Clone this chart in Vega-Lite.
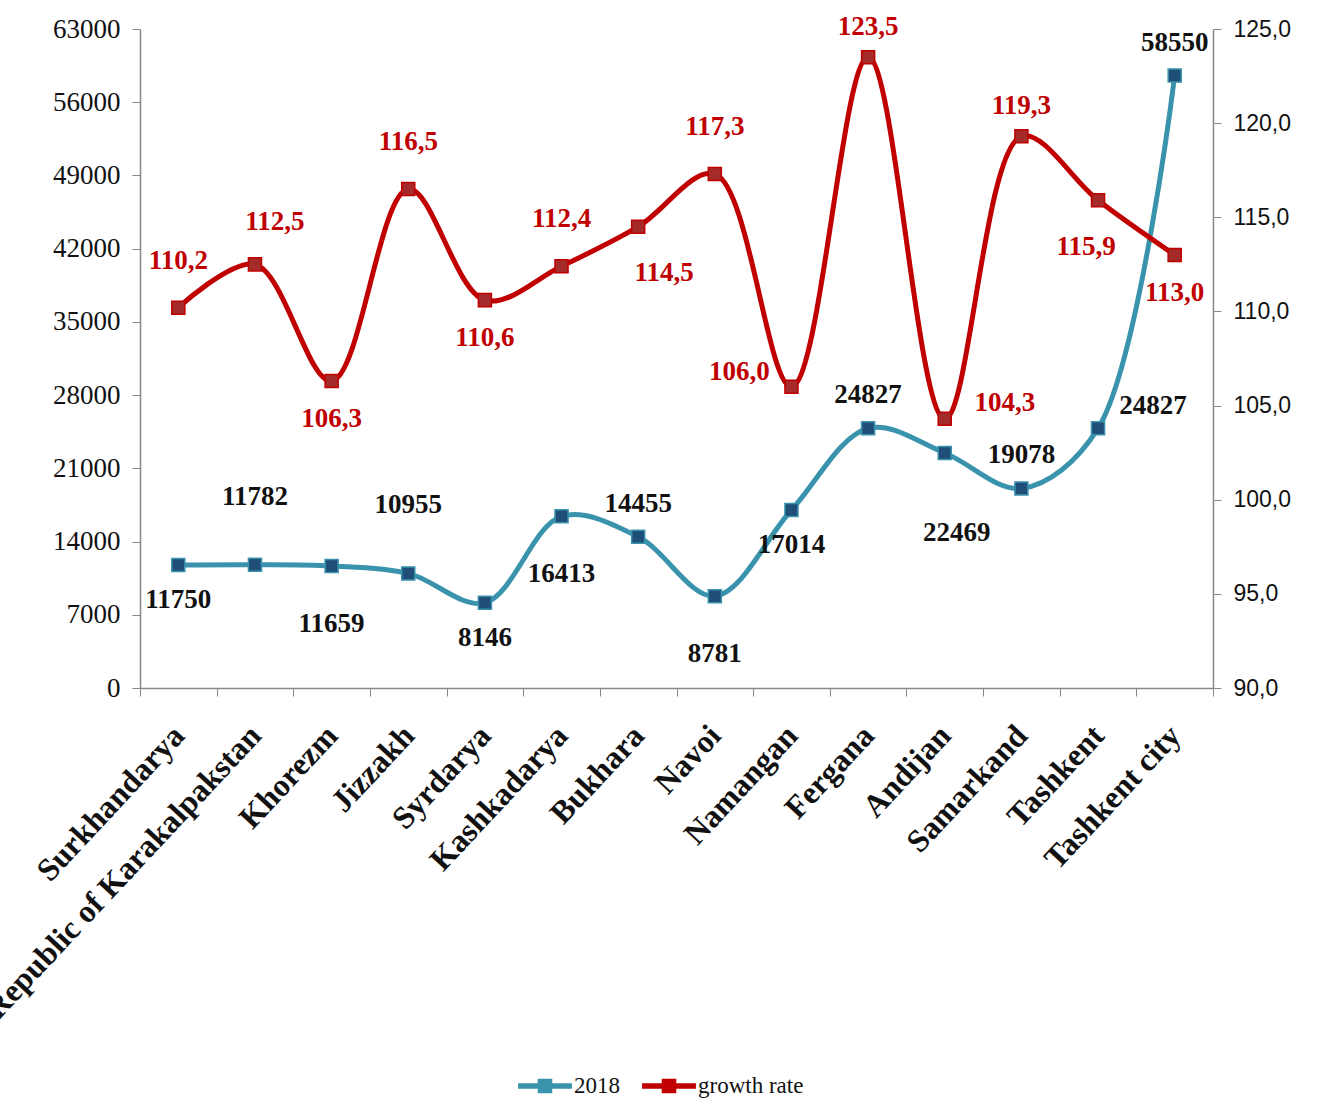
{
  "$schema": "https://vega.github.io/schema/vega-lite/v6.json",
  "autosize": "none",
  "width": 1073,
  "height": 659,
  "padding": {"left": 140, "top": 29, "right": 105, "bottom": 410},
  "background": "white",
  "config": {
    "view": {"stroke": null},
    "locale": {"number": {"decimal": ",", "thousands": "", "grouping": [3], "currency": ["", ""]}},
    "axis": {"grid": false, "domainColor": "#888888", "tickColor": "#888888", "tickSize": 8, "labelColor": "#111111", "titleColor": "#111111"}
  },
  "data": {"values": [
    {"region": "Surkhandarya", "v2018": 11750, "growth": 110.2},
    {"region": "Republic of Karakalpakstan", "v2018": 11782, "growth": 112.5},
    {"region": "Khorezm", "v2018": 11659, "growth": 106.3},
    {"region": "Jizzakh", "v2018": 10955, "growth": 116.5},
    {"region": "Syrdarya", "v2018": 8146, "growth": 110.6},
    {"region": "Kashkadarya", "v2018": 16413, "growth": 112.4},
    {"region": "Bukhara", "v2018": 14455, "growth": 114.5},
    {"region": "Navoi", "v2018": 8781, "growth": 117.3},
    {"region": "Namangan", "v2018": 17014, "growth": 106.0},
    {"region": "Fergana", "v2018": 24827, "growth": 123.5},
    {"region": "Andijan", "v2018": 22469, "growth": 104.3},
    {"region": "Samarkand", "v2018": 19078, "growth": 119.3},
    {"region": "Tashkent", "v2018": 24827, "growth": 115.9},
    {"region": "Tashkent city", "v2018": 58550, "growth": 113.0}
  ]},
  "encoding": {
    "x": {
      "field": "region", "type": "nominal", "sort": null,
      "scale": {"type": "band", "paddingInner": 0, "paddingOuter": 0},
      "axis": {"title": null, "labelAngle": -47, "tickBand": "extent", "labelFont": "Liberation Serif", "labelFontSize": 32, "labelFontWeight": "bold", "labelPadding": 34, "labelLimit": 0, "domainWidth": 1.5}
    }
  },
  "layer": [
    {
      "encoding": {
        "y": {"field": "v2018", "type": "quantitative",
          "scale": {"domain": [0, 63000], "nice": false, "zero": true},
          "axis": {"title": null, "orient": "left", "values": [0, 7000, 14000, 21000, 28000, 35000, 42000, 49000, 56000, 63000], "format": "d", "labelFont": "Liberation Serif", "labelFontSize": 27, "labelPadding": 12, "domainWidth": 1.5}}
      },
      "layer": [
        {"mark": {"type": "line", "interpolate": "catmull-rom", "strokeWidth": 5},
         "encoding": {"color": {"datum": "2018", "type": "nominal",
           "scale": {"domain": ["2018", "growth rate"], "range": ["#3A93AC", "#C00000"]},
           "legend": {"title": null, "orient": "none", "direction": "horizontal", "legendX": 378, "legendY": 1030,
             "labelFont": "Liberation Serif", "labelFontSize": 23, "labelColor": "#111111", "symbolSize": 2900,
             "symbolType": "M-1,-0.1H1V0.1H-1Z M-0.27,-0.27H0.27V0.27H-0.27Z", "symbolStrokeWidth": 0, "columnPadding": 22, "labelOffset": 2,
             "encode": {"symbols": {"update": {"fill": {"scale": "color", "field": "value"}, "stroke": {"value": "transparent"}, "opacity": {"value": 1}}}}}}}},
        {"mark": {"type": "square", "size": 170, "fill": "#1F4E79", "stroke": "#3A93AC", "strokeWidth": 1.5, "opacity": 1}, "encoding": {}},
        {"transform": [{"filter": {"field": "region", "oneOf": ["Republic of Karakalpakstan", "Jizzakh"]}}],
         "mark": {"type": "text", "font": "Liberation Serif", "fontSize": 27, "fontWeight": "bold", "color": "#111111", "dy": -68, "baseline": "middle"},
         "encoding": {"text": {"field": "v2018", "type": "quantitative", "format": "d"}}},
        {"transform": [{"filter": {"field": "region", "oneOf": ["Bukhara", "Fergana", "Samarkand", "Tashkent city"]}}],
         "mark": {"type": "text", "font": "Liberation Serif", "fontSize": 27, "fontWeight": "bold", "color": "#111111", "dy": -33, "baseline": "middle"},
         "encoding": {"text": {"field": "v2018", "type": "quantitative", "format": "d"}}},
        {"transform": [{"filter": {"field": "region", "oneOf": ["Surkhandarya", "Syrdarya", "Namangan"]}}],
         "mark": {"type": "text", "font": "Liberation Serif", "fontSize": 27, "fontWeight": "bold", "color": "#111111", "dy": 35, "baseline": "middle"},
         "encoding": {"text": {"field": "v2018", "type": "quantitative", "format": "d"}}},
        {"transform": [{"filter": {"field": "region", "oneOf": ["Khorezm", "Kashkadarya", "Navoi"]}}],
         "mark": {"type": "text", "font": "Liberation Serif", "fontSize": 27, "fontWeight": "bold", "color": "#111111", "dy": 58, "baseline": "middle"},
         "encoding": {"text": {"field": "v2018", "type": "quantitative", "format": "d"}}},
        {"transform": [{"filter": {"field": "region", "oneOf": ["Andijan"]}}],
         "mark": {"type": "text", "font": "Liberation Serif", "fontSize": 27, "fontWeight": "bold", "color": "#111111", "dy": 80, "dx": 12, "baseline": "middle"},
         "encoding": {"text": {"field": "v2018", "type": "quantitative", "format": "d"}}},
        {"transform": [{"filter": {"field": "region", "oneOf": ["Tashkent"]}}],
         "mark": {"type": "text", "font": "Liberation Serif", "fontSize": 27, "fontWeight": "bold", "color": "#111111", "dy": -22, "dx": 55, "baseline": "middle"},
         "encoding": {"text": {"field": "v2018", "type": "quantitative", "format": "d"}}}
      ]
    },
    {
      "encoding": {
        "y": {"field": "growth", "type": "quantitative",
          "scale": {"domain": [90, 125], "nice": false, "zero": false},
          "axis": {"title": null, "orient": "right", "values": [90, 95, 100, 105, 110, 115, 120, 125], "format": ".1f", "labelFont": "Liberation Sans", "labelFontSize": 23, "labelPadding": 12, "domainWidth": 1.5}}
      },
      "layer": [
        {"mark": {"type": "line", "interpolate": "catmull-rom", "strokeWidth": 5},
         "encoding": {"color": {"datum": "growth rate", "type": "nominal"}}},
        {"mark": {"type": "square", "size": 170, "fill": "#A52A2A", "stroke": "#C00000", "strokeWidth": 1.5, "opacity": 1}, "encoding": {}},
        {"transform": [{"filter": {"field": "region", "oneOf": ["Surkhandarya", "Jizzakh", "Kashkadarya", "Navoi"]}}],
         "mark": {"type": "text", "font": "Liberation Serif", "fontSize": 27, "fontWeight": "bold", "color": "#C00000", "dy": -47, "baseline": "middle"},
         "encoding": {"text": {"field": "growth", "type": "quantitative", "format": ".1f"}}},
        {"transform": [{"filter": {"field": "region", "oneOf": ["Republic of Karakalpakstan"]}}],
         "mark": {"type": "text", "font": "Liberation Serif", "fontSize": 27, "fontWeight": "bold", "color": "#C00000", "dy": -42, "dx": 20, "baseline": "middle"},
         "encoding": {"text": {"field": "growth", "type": "quantitative", "format": ".1f"}}},
        {"transform": [{"filter": {"field": "region", "oneOf": ["Fergana", "Samarkand"]}}],
         "mark": {"type": "text", "font": "Liberation Serif", "fontSize": 27, "fontWeight": "bold", "color": "#C00000", "dy": -30, "baseline": "middle"},
         "encoding": {"text": {"field": "growth", "type": "quantitative", "format": ".1f"}}},
        {"transform": [{"filter": {"field": "region", "oneOf": ["Khorezm", "Syrdarya", "Tashkent city"]}}],
         "mark": {"type": "text", "font": "Liberation Serif", "fontSize": 27, "fontWeight": "bold", "color": "#C00000", "dy": 38, "baseline": "middle"},
         "encoding": {"text": {"field": "growth", "type": "quantitative", "format": ".1f"}}},
        {"transform": [{"filter": {"field": "region", "oneOf": ["Bukhara"]}}],
         "mark": {"type": "text", "font": "Liberation Serif", "fontSize": 27, "fontWeight": "bold", "color": "#C00000", "dy": 46, "dx": 26, "baseline": "middle"},
         "encoding": {"text": {"field": "growth", "type": "quantitative", "format": ".1f"}}},
        {"transform": [{"filter": {"field": "region", "oneOf": ["Tashkent"]}}],
         "mark": {"type": "text", "font": "Liberation Serif", "fontSize": 27, "fontWeight": "bold", "color": "#C00000", "dy": 47, "dx": -12, "baseline": "middle"},
         "encoding": {"text": {"field": "growth", "type": "quantitative", "format": ".1f"}}},
        {"transform": [{"filter": {"field": "region", "oneOf": ["Namangan"]}}],
         "mark": {"type": "text", "font": "Liberation Serif", "fontSize": 27, "fontWeight": "bold", "color": "#C00000", "dy": -15, "dx": -52, "baseline": "middle"},
         "encoding": {"text": {"field": "growth", "type": "quantitative", "format": ".1f"}}},
        {"transform": [{"filter": {"field": "region", "oneOf": ["Andijan"]}}],
         "mark": {"type": "text", "font": "Liberation Serif", "fontSize": 27, "fontWeight": "bold", "color": "#C00000", "dy": -16, "dx": 60, "baseline": "middle"},
         "encoding": {"text": {"field": "growth", "type": "quantitative", "format": ".1f"}}}
      ]
    }
  ],
  "resolve": {"scale": {"y": "independent"}, "axis": {"y": "independent"}}
}
